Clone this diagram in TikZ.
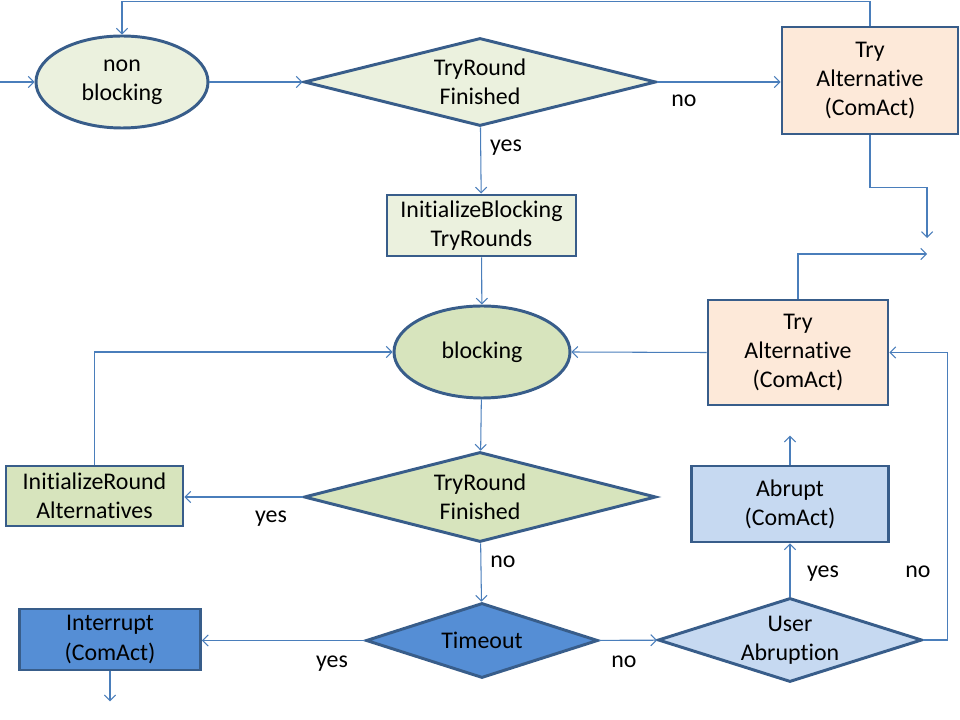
\documentclass[tikz,border=0pt]{standalone}
\usepackage{fontspec}
\setmainfont{Carlito}[Ligatures=NoCommon]
\usetikzlibrary{positioning, shapes.geometric, arrows.meta}
\newlength\px
\setlength\px{0.025cm}
\definecolor{rimblue}{HTML}{385D8A}
\definecolor{wireblue}{HTML}{4A7EBB}
\definecolor{palegreen}{HTML}{EBF1DE}
\definecolor{leafgreen}{HTML}{D7E4BD}
\definecolor{peach}{HTML}{FDE9D9}
\definecolor{skyblue}{HTML}{C6D9F1}
\definecolor{midblue}{HTML}{558ED5}

\begin{document}
\begin{tikzpicture}[x=0.025cm, y=-0.025cm,
font=\fontsize{17}{20.8}\selectfont,
base/.style={
  draw=rimblue, line width=2.1pt,
  inner sep=0pt, align=center
},
state/.style={base, ellipse, minimum width=172\px, minimum height=92\px},
test/.style={base, diamond, shape aspect=3, inner ysep=-10pt},
action/.style={base, rectangle},
flow/.style={draw=wireblue, line width=0.75pt, -{Straight Barb[length=4pt,width=8pt]}},
lbl/.style={anchor=base, inner sep=0pt}
]
\useasboundingbox (0,0) rectangle (960,720);

% upper part, non blocking rounds
\node (nonblock) [state, fill=palegreen] at (122,82) {non\\blocking};
\node (tryfin1) [test, fill=palegreen, minimum width=352\px, minimum height=88\px] at (480,82) {TryRound\\Finished};
\node (tryalt1) [action, fill=peach, minimum width=176\px, minimum height=107\px] at (870,80.5) {Try\\Alternative\\(ComAct)};
\node (initblock) [action, fill=palegreen, minimum width=189\px, minimum height=61\px] at (481.5,225.5) {InitializeBlocking\\TryRounds};

% lower part, blocking rounds
\node (block) [state, fill=leafgreen, minimum width=176\px] at (482,352) {blocking};
\node (tryalt2) [action, fill=peach, minimum width=180\px, minimum height=105\px] at (798,352.5) {Try\\Alternative\\(ComAct)};
\node (tryfin2) [test, fill=leafgreen, minimum width=352\px, minimum height=90\px] at (480,497) {TryRound\\Finished};
\node (initround) [action, fill=leafgreen, minimum width=177\px, minimum height=60\px] at (94.5,496) {InitializeRound\\Alternatives};
\node (timeout) [test, fill=midblue, inner ysep=0pt, minimum width=232\px, minimum height=75\px] at (482,640.5) {Timeout};
\node (interrupt) [action, fill=midblue, minimum width=181\px, minimum height=61\px] at (110,639.5) {Interrupt\\(ComAct)};
\node (userabr) [test, fill=skyblue, minimum width=264\px, minimum height=84\px] at (790,640) {User\\Abruption};
\node (abrupt) [action, fill=skyblue, minimum width=197\px, minimum height=76\px] at (790,504) {Abrupt\\(ComAct)};

\coordinate (entry) at (0,82);
\coordinate (gapin) at (927,238);
\coordinate (gapout) at (927,254);

\draw[flow] (entry) -- (nonblock);
\draw[flow] (nonblock) -- (tryfin1);
\draw[flow] (tryfin1.east) -- (tryfin1.east -| tryalt1.west);
\draw[flow] (tryalt1.north) -- ++(0,-24) -| (nonblock.north);
\draw[flow] (tryalt1.south) -- ++(0,52) -| (gapin);
\draw[flow] (tryalt2.north) |- (gapout);
\draw[flow] (tryfin1) -- (initblock);
\draw[flow] (initblock) -- (block);
\draw[flow] (tryalt2.west) -- (block.east);
\draw[flow] (block) -- (tryfin2);
\draw[flow] (tryfin2.west) -- (tryfin2.west -| initround.east);
\draw[flow] (initround.north) |- (block.west);
\draw[flow] (tryfin2) -- (timeout);
\draw[flow] (timeout.west) -- (timeout.west -| interrupt.east);
\draw[flow] (interrupt.south) -- ++(0,30);
\draw[flow] (timeout) -- (userabr);
\draw[flow] (userabr) -- (abrupt);
\draw[flow] (abrupt.north) -- ++(0,-29);
\draw[flow] (userabr.east) -- ++(24,0) |- (tryalt2.east);

% branch labels
\node (no1) [lbl] at (684,107) {no};
\node (yes1) [lbl] at (506,152) {yes};
\node (yes2) [lbl] at (271,523) {yes};
\node (no2) [lbl] at (503,567) {no};
\node (yes3) [lbl] at (332,667) {yes};
\node (no3) [lbl] at (624,667) {no};
\node (yes4) [lbl] at (823,577) {yes};
\node (no4) [lbl] at (918,577) {no};
\end{tikzpicture}
\end{document}
